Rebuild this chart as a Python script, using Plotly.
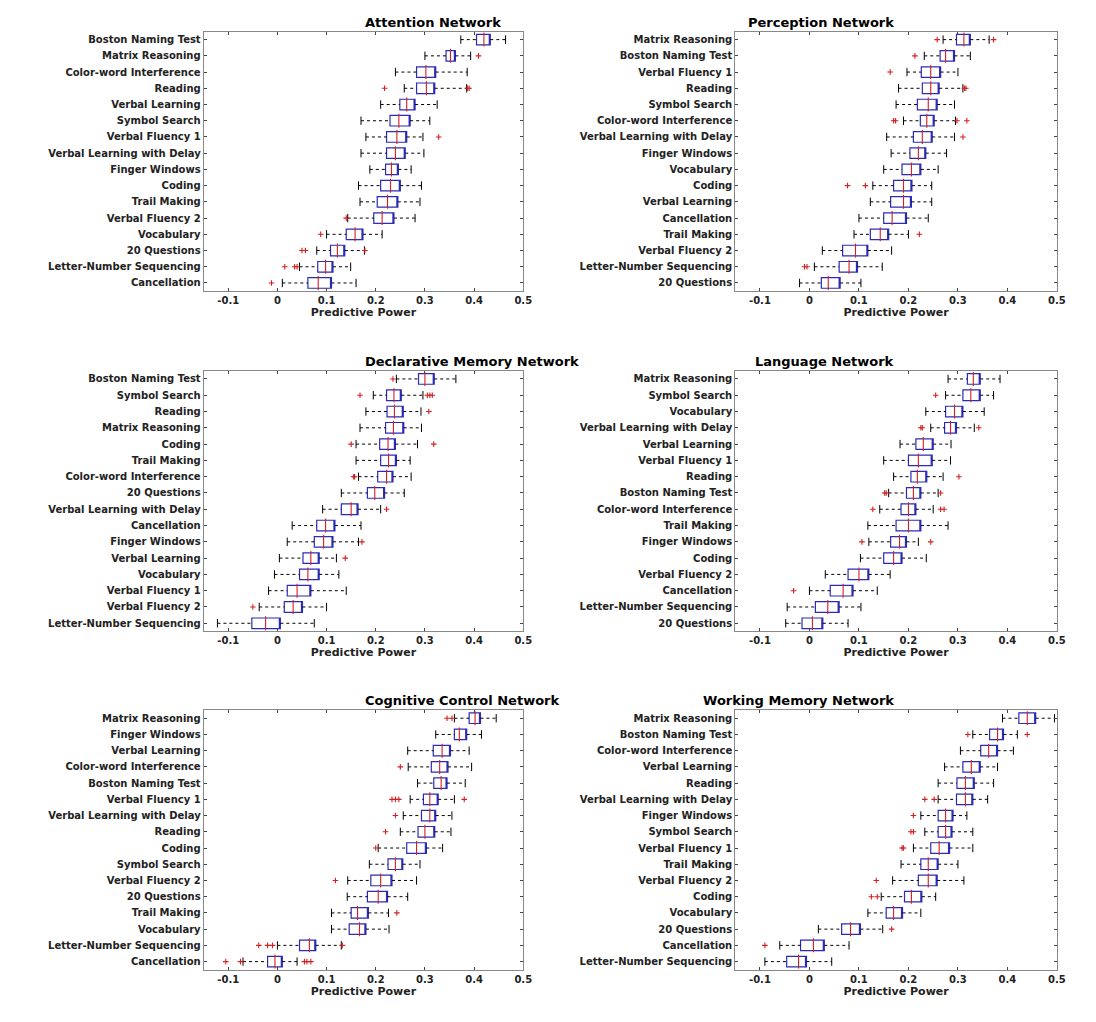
import plotly.graph_objects as go

# each network: rows top->bottom as (test, lo, q1, median, q3, hi)
attention = [
    ("Boston Naming Test", .373, .405, .420, .433, .464),
    ("Matrix Reasoning", .300, .343, .352, .362, .393),
    ("Color-word Interference", .240, .283, .302, .322, .386),
    ("Reading", .258, .283, .303, .320, .385),
    ("Verbal Learning", .210, .249, .263, .280, .325),
    ("Symbol Search", .170, .229, .247, .270, .310),
    ("Verbal Fluency 1", .180, .222, .243, .263, .296),
    ("Verbal Learning with Delay", .170, .222, .240, .260, .298),
    ("Finger Windows", .188, .220, .232, .246, .272),
    ("Coding", .165, .210, .230, .250, .293),
    ("Trail Making", .168, .203, .224, .245, .290),
    ("Verbal Fluency 2", .143, .196, .213, .237, .280),
    ("Vocabulary", .100, .140, .158, .174, .213),
    ("20 Questions", .080, .108, .122, .137, .177),
    ("Letter-Number Sequencing", .045, .082, .098, .113, .149),
    ("Cancellation", .010, .062, .083, .110, .160),
]
attention_out = {"Matrix Reasoning": [.409], "Reading": [.218, .387, .390], "Verbal Fluency 1": [.328],
                 "Verbal Fluency 2": [.140], "Vocabulary": [.088], "20 Questions": [.050, .057, .178],
                 "Letter-Number Sequencing": [.015, .035, .040], "Cancellation": [-.012]}

perception = [
    ("Matrix Reasoning", .270, .297, .312, .325, .363),
    ("Boston Naming Test", .232, .264, .275, .293, .325),
    ("Verbal Fluency 1", .197, .226, .245, .265, .300),
    ("Reading", .180, .228, .245, .262, .310),
    ("Symbol Search", .175, .218, .240, .258, .293),
    ("Color-word Interference", .190, .224, .237, .252, .295),
    ("Verbal Learning with Delay", .156, .210, .228, .248, .293),
    ("Finger Windows", .165, .203, .220, .235, .277),
    ("Vocabulary", .150, .187, .206, .225, .260),
    ("Coding", .128, .170, .190, .207, .247),
    ("Verbal Learning", .123, .164, .190, .206, .247),
    ("Cancellation", .100, .150, .167, .196, .240),
    ("Trail Making", .090, .123, .143, .160, .200),
    ("Verbal Fluency 2", .026, .067, .093, .118, .166),
    ("Letter-Number Sequencing", .010, .060, .080, .097, .147),
    ("20 Questions", -.020, .024, .038, .062, .104),
]
perception_out = {"Matrix Reasoning": [.258, .372], "Boston Naming Test": [.213], "Verbal Fluency 1": [.163],
                  "Reading": [.313, .316], "Color-word Interference": [.170, .174, .298, .318],
                  "Verbal Learning with Delay": [.310], "Coding": [.077, .113], "Trail Making": [.222],
                  "Letter-Number Sequencing": [-.010, -.005]}

declarative = [
    ("Boston Naming Test", .242, .287, .300, .319, .363),
    ("Symbol Search", .195, .222, .237, .252, .296),
    ("Reading", .180, .223, .238, .256, .292),
    ("Matrix Reasoning", .168, .220, .236, .257, .293),
    ("Coding", .160, .208, .225, .240, .285),
    ("Trail Making", .160, .210, .226, .242, .270),
    ("Color-word Interference", .165, .204, .222, .235, .272),
    ("20 Questions", .130, .183, .198, .218, .258),
    ("Verbal Learning with Delay", .092, .130, .150, .164, .210),
    ("Cancellation", .030, .080, .098, .117, .170),
    ("Finger Windows", .020, .075, .094, .113, .165),
    ("Verbal Learning", .004, .052, .068, .085, .120),
    ("Vocabulary", -.006, .045, .062, .085, .125),
    ("Verbal Fluency 1", -.018, .020, .040, .068, .140),
    ("Verbal Fluency 2", -.037, .014, .032, .051, .100),
    ("Letter-Number Sequencing", -.122, -.052, -.024, .006, .075),
]
declarative_out = {"Boston Naming Test": [.235], "Symbol Search": [.168, .305, .310, .315], "Reading": [.308],
                   "Coding": [.150, .318], "Color-word Interference": [.155, .157],
                   "Verbal Learning with Delay": [.222], "Finger Windows": [.172], "Verbal Learning": [.138],
                   "Verbal Fluency 2": [-.050]}

language = [
    ("Matrix Reasoning", .280, .319, .331, .345, .385),
    ("Symbol Search", .275, .310, .326, .345, .372),
    ("Vocabulary", .235, .275, .293, .310, .353),
    ("Verbal Learning with Delay", .245, .273, .285, .297, .333),
    ("Verbal Learning", .183, .215, .230, .250, .286),
    ("Verbal Fluency 1", .150, .200, .220, .248, .285),
    ("Reading", .170, .205, .218, .237, .270),
    ("Boston Naming Test", .160, .196, .210, .225, .260),
    ("Color-word Interference", .142, .185, .200, .215, .250),
    ("Trail Making", .118, .175, .200, .225, .280),
    ("Finger Windows", .120, .164, .182, .196, .220),
    ("Coding", .103, .150, .170, .187, .236),
    ("Verbal Fluency 2", .032, .078, .100, .120, .163),
    ("Cancellation", .000, .042, .068, .088, .137),
    ("Letter-Number Sequencing", -.045, .012, .037, .060, .104),
    ("20 Questions", -.048, -.015, .006, .027, .078),
]
language_out = {"Symbol Search": [.255], "Verbal Learning with Delay": [.225, .228, .342], "Reading": [.302],
                "Boston Naming Test": [.152, .155, .265], "Color-word Interference": [.128, .265, .272],
                "Finger Windows": [.106, .245], "Cancellation": [-.032]}

cognitive = [
    ("Matrix Reasoning", .360, .390, .402, .413, .445),
    ("Finger Windows", .322, .360, .370, .385, .415),
    ("Verbal Learning", .265, .317, .335, .352, .390),
    ("Color-word Interference", .266, .313, .330, .347, .395),
    ("Boston Naming Test", .285, .318, .333, .345, .382),
    ("Verbal Fluency 1", .270, .297, .310, .327, .360),
    ("Verbal Learning with Delay", .256, .293, .310, .322, .355),
    ("Reading", .250, .286, .300, .320, .353),
    ("Coding", .205, .263, .283, .303, .336),
    ("Symbol Search", .187, .225, .240, .255, .290),
    ("Verbal Fluency 2", .143, .190, .210, .233, .283),
    ("20 Questions", .142, .183, .205, .224, .265),
    ("Trail Making", .110, .150, .163, .185, .226),
    ("Vocabulary", .110, .146, .167, .180, .227),
    ("Letter-Number Sequencing", .000, .045, .065, .078, .130),
    ("Cancellation", -.070, -.020, -.005, .010, .040),
]
cognitive_out = {"Matrix Reasoning": [.345, .355], "Color-word Interference": [.250],
                 "Verbal Fluency 1": [.233, .240, .247, .380], "Verbal Learning with Delay": [.240],
                 "Reading": [.220], "Coding": [.200], "Verbal Fluency 2": [.118], "Trail Making": [.243],
                 "Letter-Number Sequencing": [-.038, -.020, -.010, .132],
                 "Cancellation": [-.105, -.075, .055, .060, .068]}

working = [
    ("Matrix Reasoning", .390, .423, .440, .457, .495),
    ("Boston Naming Test", .330, .364, .380, .392, .420),
    ("Color-word Interference", .305, .346, .362, .380, .412),
    ("Verbal Learning", .273, .310, .327, .345, .380),
    ("Reading", .260, .298, .315, .333, .372),
    ("Verbal Learning with Delay", .260, .297, .315, .330, .360),
    ("Finger Windows", .225, .260, .275, .290, .318),
    ("Symbol Search", .233, .260, .275, .288, .330),
    ("Verbal Fluency 1", .210, .245, .262, .283, .330),
    ("Trail Making", .185, .225, .240, .260, .300),
    ("Verbal Fluency 2", .168, .220, .240, .258, .312),
    ("Coding", .145, .192, .206, .227, .255),
    ("Vocabulary", .118, .155, .170, .188, .225),
    ("20 Questions", .018, .065, .083, .103, .148),
    ("Cancellation", -.060, -.018, .008, .030, .080),
    ("Letter-Number Sequencing", -.090, -.046, -.022, -.006, .045),
]
working_out = {"Boston Naming Test": [.320, .440], "Verbal Learning with Delay": [.233, .252],
               "Finger Windows": [.210], "Symbol Search": [.205, .210], "Verbal Fluency 1": [.187, .190],
               "Verbal Fluency 2": [.135], "Coding": [.125, .137], "20 Questions": [.166],
               "Cancellation": [-.090]}

panels = [
    ("Attention Network", attention, attention_out),
    ("Perception Network", perception, perception_out),
    ("Declarative Memory Network", declarative, declarative_out),
    ("Language Network", language, language_out),
    ("Cognitive Control Network", cognitive, cognitive_out),
    ("Working Memory Network", working, working_out),
]

x_domains = [[0.180, 0.474], [0.669, 0.965]]
y_domains = [[0.723, 0.977], [0.390, 0.645], [0.059, 0.313]]
FONT = dict(family="DejaVu Sans", size=10, color="#222", weight="bold")

fig = go.Figure()
for i, (title, rows, outs) in enumerate(panels):
    n = i + 1
    xa, ya = ("x" if n == 1 else f"x{n}"), ("y" if n == 1 else f"y{n}")
    names = [r[0] for r in rows]
    lo = [r[1] for r in rows]; q1 = [r[2] for r in rows]; med = [r[3] for r in rows]
    q3 = [r[4] for r in rows]; hi = [r[5] for r in rows]

    # dashed whiskers
    wx, wy = [], []
    for nm, a, b, c, d in zip(names, lo, q1, q3, hi):
        wx += [a, b, None, c, d, None]
        wy += [nm, nm, None, nm, nm, None]
    fig.add_trace(go.Scatter(x=wx, y=wy, mode="lines", line=dict(color="black", width=1, dash="3px,3px"),
                             xaxis=xa, yaxis=ya, showlegend=False))
    fig.add_trace(go.Scatter(x=lo + hi, y=names + names, mode="markers",
                             marker=dict(symbol="line-ns", size=6, line=dict(color="black", width=1)),
                             xaxis=xa, yaxis=ya, showlegend=False))
    fig.add_trace(go.Box(y=names, q1=q1, median=q3, q3=q3, lowerfence=q1, upperfence=q3,
                         orientation="h", fillcolor="white", line=dict(color="#2b2bb8", width=1.2),
                         width=0.65, whiskerwidth=0, xaxis=xa, yaxis=ya, showlegend=False,
                         hoverinfo="skip"))
    fig.add_trace(go.Scatter(x=med, y=names, mode="markers",
                             marker=dict(symbol="line-ns", size=10, line=dict(color="#d42020", width=1.1)),
                             xaxis=xa, yaxis=ya, showlegend=False))
    ox, oy = [], []
    for nm, vals in outs.items():
        ox += vals; oy += [nm] * len(vals)
    fig.add_trace(go.Scatter(x=ox, y=oy, mode="markers",
                             marker=dict(symbol="cross-thin", size=4, line=dict(color="#d42020", width=1.1)),
                             xaxis=xa, yaxis=ya, showlegend=False))

    col, row = i % 2, i // 2
    fig.update_layout({
        f"xaxis{'' if n == 1 else n}": dict(
            domain=x_domains[col], anchor=ya, range=[-0.15, 0.5], tickvals=[-0.1, 0, 0.1, 0.2, 0.3, 0.4, 0.5],
            ticktext=["-0.1", "0", "0.1", "0.2", "0.3", "0.4", "0.5"], ticks="inside", ticklen=3,
            showgrid=False, zeroline=False, showline=True, mirror="ticks", linecolor="#888",
            tickfont=FONT, title=dict(text="Predictive Power", font=dict(FONT, size=11), standoff=2)),
        f"yaxis{'' if n == 1 else n}": dict(
            domain=y_domains[row], anchor=xa, type="category", categoryorder="array",
            categoryarray=names[::-1], range=[-0.5, len(names) - 0.5], ticks="inside", ticklen=3,
            showgrid=False, zeroline=False, showline=True, mirror="ticks", linecolor="#888",
            tickfont=FONT),
    })
    fig.add_annotation(text=title, xref="paper", yref="paper", x=sum(x_domains[col]) / 2,
                       y=y_domains[row][1], yanchor="bottom", showarrow=False,
                       font=dict(family="DejaVu Sans", size=13, color="black", weight="bold"))

fig.update_layout(width=1096, height=1022, margin=dict(l=0, r=0, t=0, b=0),
                  paper_bgcolor="white", plot_bgcolor="white")
fig.write_html("out.html")
